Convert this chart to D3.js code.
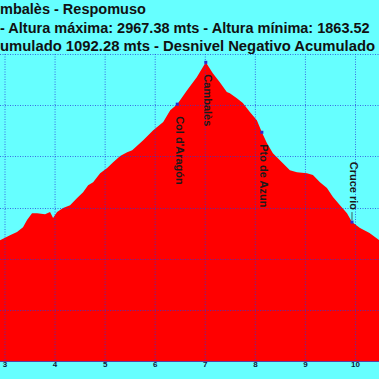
<!DOCTYPE html>
<html><head><meta charset="utf-8">
<script src="https://cdn.jsdelivr.net/npm/d3@7"></script>
<style>html,body{margin:0;padding:0;background:#66ffff;overflow:hidden}</style>
</head><body>
<script>
// Distance (km) and altitude (m)
const distKm = [2.91,3.11,3.25,3.37,3.45,3.55,3.65,3.81,3.91,3.97,4.05,4.17,4.31,4.45,4.57,4.67,4.77,4.91,5.05,5.17,5.31,5.45,5.55,5.77,5.97,6.17,6.31,6.45,6.65,6.84,7.02,7.16,7.30,7.44,7.50,7.64,7.76,7.90,8.04,8.14,8.24,8.36,8.56,8.70,8.84,9.04,9.16,9.30,9.44,9.56,9.70,9.84,9.94,10.10,10.29,10.48];
const altM = [2272,2292,2304,2323,2351,2378,2378,2374,2382,2359,2382,2398,2409,2437,2460,2487,2499,2534,2554,2577,2601,2616,2624,2663,2702,2734,2780,2804,2859,2909,2967.38,2925,2890,2851,2847,2827,2808,2773,2741,2694,2652,2612,2573,2546,2538,2534,2527,2499,2476,2441,2409,2378,2343,2320,2300,2273];
const waypointNames = ["Col d'Aragón","Cambalès","Pto de Azun","Cruce rio"];
const waypointKm = [6.45,7.02,8.14,9.94];
const waypointAlt = [2804,2967.38,2694,2343];
const xTicks = [3,4,5,6,7,8,9,10];
const yGrid = [2000,2200,2400,2600,2800,3000];
const titleLines = ["mbalès - Respomuso","- Altura máxima: 2967.38 mts - Altura mínima: 1863.52","umulado 1092.28 mts - Desnivel Negativo Acumulado"];

const W=379,H=379;
const svg=d3.select("body").append("svg").attr("width",W).attr("height",H);
svg.append("rect").attr("width",W).attr("height",H).attr("fill","#66ffff");

const x=d3.scaleLinear().domain([3,10]).range([4.5,355]);
const y=d3.scaleLinear().domain([1800,3000]).range([361,54]);
const data=distKm.map((d,i)=>({d,a:altM[i]}));

svg.append("path").datum(data)
  .attr("d",d3.area().x(p=>x(p.d)).y0(y(1800)).y1(p=>y(p.a)))
  .attr("fill","#ff0000");

// grid
const g=svg.append("g");
g.selectAll(".vg").data(xTicks).join("line")
  .attr("x1",d=>x(d)+0.5).attr("x2",d=>x(d)+0.5).attr("y1",y(3000)).attr("y2",y(1800))
  .attr("stroke","#2a3cd8").attr("stroke-opacity",0.75).attr("stroke-dasharray","1,1.5");
g.selectAll(".hg").data(yGrid).join("line")
  .attr("x1",0).attr("x2",W).attr("y1",d=>Math.round(y(d))+0.5).attr("y2",d=>Math.round(y(d))+0.5)
  .attr("stroke","#2a3cd8").attr("stroke-opacity",0.75).attr("stroke-dasharray","1,1.5");

// axis
const ax=svg.append("g").attr("transform",`translate(0,${y(1800)})`)
  .call(d3.axisBottom(x).tickValues(xTicks).tickSize(0).tickPadding(2).tickFormat(d3.format("d")));
ax.select(".domain").attr("stroke","#5a3fa0").attr("d",`M0,0.5H${W}`);
ax.selectAll("text").attr("font-family","Liberation Sans, Arial, sans-serif").attr("font-weight","bold")
  .attr("font-size","8px").attr("fill","#102040").attr("dy","0.55em");

// waypoints
const wp=waypointNames.map((n,i)=>({n,d:waypointKm[i],a:waypointAlt[i]}));
svg.selectAll(".wpm").data(wp).join("rect")
  .attr("x",p=>x(p.d)-1.5).attr("y",p=>y(p.a)-1.5).attr("width",3).attr("height",3).attr("fill","#2a2ad0");
svg.selectAll(".wpl").data(wp).join("text")
  .attr("transform",(p,i)=>{
    const px=x(p.d)-1.5, py=y(p.a);
    return i===3?`translate(${px},${py-12}) rotate(90)`:`translate(${px},${py+12}) rotate(90)`;})
  .attr("text-anchor",(p,i)=>i===3?"end":"start")
  .attr("font-family","Liberation Sans, Arial, sans-serif").attr("font-weight","bold")
  .attr("font-size","11px").attr("fill","#1a1a1a")
  .text(p=>p.n);
svg.append("line").attr("x1",x(waypointKm[3])).attr("x2",x(waypointKm[3]))
  .attr("y1",y(waypointAlt[3])-10).attr("y2",y(waypointAlt[3])-2).attr("stroke","#333").attr("stroke-width",0.8);

// titles
const tl=[{t:titleLines[0],x:0,b:14},{t:titleLines[1],x:0,b:33},{t:titleLines[2],x:0,b:51,len:375}];
svg.selectAll(".tt").data(tl).join("text")
  .attr("x",d=>d.x).attr("y",d=>d.b).attr("text-anchor","start")
  .attr("font-family","Liberation Sans, Arial, sans-serif").attr("font-weight","bold")
  .attr("font-size","14.5px").attr("fill","#111")
  .each(function(d){ if(d.len){ d3.select(this).attr("textLength",d.len).attr("lengthAdjust","spacingAndGlyphs"); } })
  .text(d=>d.t);
</script>
</body></html>
